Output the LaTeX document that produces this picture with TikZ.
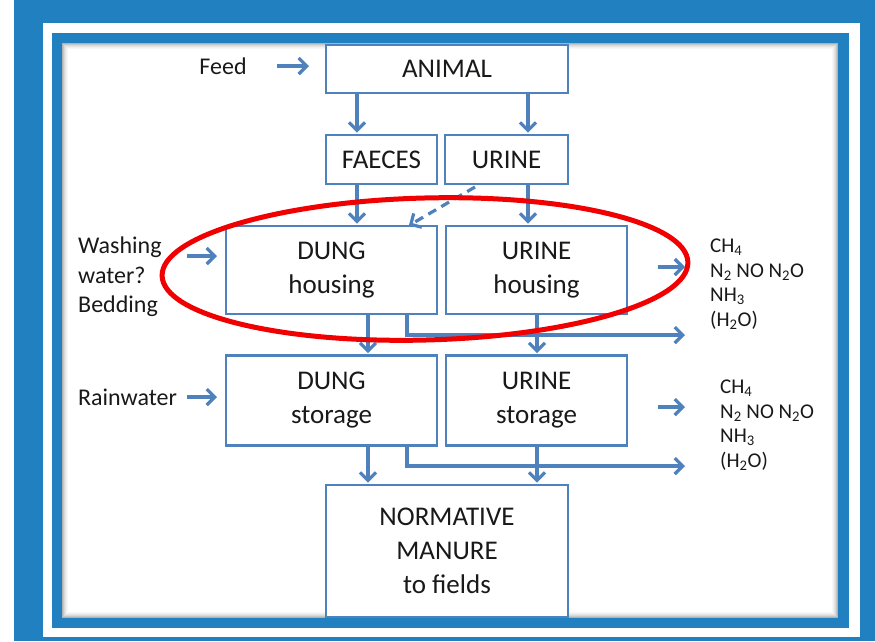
\documentclass[tikz,border=0pt]{standalone}
\usepackage{fontspec}
\setmainfont{Carlito}
\usetikzlibrary{arrows.meta}
\definecolor{frameblue}{RGB}{32,128,192}
\definecolor{boxblue}{RGB}{79,129,189}
\definecolor{txt}{RGB}{25,25,25}
\definecolor{ringred}{RGB}{240,0,0}
\begin{document}
\begin{tikzpicture}[x=1pt,y=-1pt,
  box/.style={draw=boxblue, line width=2.6pt, fill=white, text=txt, align=center, inner sep=0pt, font=\fontsize{27}{34}\selectfont},
  arr/.style={draw=boxblue, line width=3.2pt, -{Straight Barb[length=8pt,width=16pt]}, shorten >=1pt},
  side/.style={text=txt, font=\fontsize{24}{29.5}\selectfont, inner sep=0pt, align=left},
  chem/.style={text=txt, font=\fontsize{21}{24.5}\selectfont, inner sep=0pt, align=left}]
\useasboundingbox (0,0) rectangle (875,641);
% frame
\fill[white] (0,0) rectangle (875,641);
\fill[frameblue] (14,0) rectangle (875,641);
\fill[white] (43,23) rectangle (860,637);
\fill[frameblue] (52,33) rectangle (849,628);
\fill[white] (62,43) rectangle (838,618);
\foreach \i/\o in {0/0.30,1/0.22,2/0.15,3/0.10,4/0.06,5/0.03}
  \draw[black,opacity=\o,line width=1pt] (62.5+\i,43.5+\i) rectangle (837.5-\i,617.5-\i);
% boxes
\node[box, minimum width=242, minimum height=48] (animal) at (447,69) {ANIMAL};
\node[box, minimum width=111, minimum height=49] (faeces) at (381.5,159.5) {FAECES};
\node[box, minimum width=123, minimum height=49] (urine) at (506.5,159.5) {URINE};
\node[box, minimum width=211, minimum height=88] (dungh) at (331.5,270) {DUNG\\housing};
\node[box, minimum width=181, minimum height=88] (urineh) at (536.5,270) {URINE\\housing};
\node[box, minimum width=211, minimum height=90] (dungs) at (331.5,400.5) {DUNG\\storage};
\node[box, minimum width=181, minimum height=90] (urines) at (536.5,400.5) {URINE\\storage};
\node[box, minimum width=242, minimum height=132] (norm) at (447,551) {NORMATIVE\\MANURE\\to fields};
% side texts
\node[side] (feed) at (223,66) {Feed};
\node[side, anchor=north west] (wash) at (78,237) {Washing\\water?\\Bedding};
\node[side, anchor=west] (rain) at (78,397) {Rainwater};
\node[chem, anchor=north west] (gas1) at (710,239) {CH\textsubscript{4}\\N\textsubscript{2} NO N\textsubscript{2}O\\NH\textsubscript{3}\\(H\textsubscript{2}O)};
\node[chem, anchor=north west] (gas2) at (720,380) {CH\textsubscript{4}\\N\textsubscript{2} NO N\textsubscript{2}O\\NH\textsubscript{3}\\(H\textsubscript{2}O)};
% column coordinates
\coordinate (xl) at (357,0);
\coordinate (xr) at (528,0);
\coordinate (xdl) at (368,0);
\coordinate (xdm) at (407,0);
\coordinate (xur) at (537,0);
\coordinate (feedA) at (277,66);
\coordinate (feedB) at (310,66);
\coordinate (washA) at (187,256);
\coordinate (washB) at (218,256);
\coordinate (rainA) at (187,397);
\coordinate (rainB) at (218,397);
\coordinate (emA) at (658,267);
\coordinate (emB) at (686,267);
\coordinate (emC) at (658,407);
\coordinate (emD) at (686,407);
\coordinate (lossA) at (686,335);
\coordinate (lossB) at (686,466);
\coordinate (dashA) at (475,187);
\coordinate (dashB) at (408,226);
% connectors
\draw[arr] (feedA) -- (feedB);
\draw[arr] (washA) -- (washB);
\draw[arr] (rainA) -- (rainB);
\draw[arr] (emA) -- (emB);
\draw[arr] (emC) -- (emD);
\draw[arr] (animal.south -| xl) -- (faeces.north -| xl);
\draw[arr] (animal.south -| xr) -- (urine.north -| xr);
\draw[arr] (faeces.south -| xl) -- (dungh.north -| xl);
\draw[arr] (urine.south -| xr) -- (urineh.north -| xr);
\draw[arr, dash pattern=on 9pt off 6pt] (dashA) -- (dashB);
\draw[arr] (dungh.south -| xdl) -- (dungs.north -| xdl);
\draw[arr] (dungh.south -| xdm) |- (lossA);
\draw[arr] (urineh.south -| xur) -- (urines.north -| xur);
\draw[arr] (dungs.south -| xdl) -- (norm.north -| xdl);
\draw[arr] (dungs.south -| xdm) |- (lossB);
\draw[arr] (urines.south -| xur) -- (norm.north -| xur);
% red ellipse
\draw[ringred, line width=5pt, rotate around={1.5:(425,269)}] (425,269) ellipse [x radius=263, y radius=71];
\end{tikzpicture}
\end{document}
